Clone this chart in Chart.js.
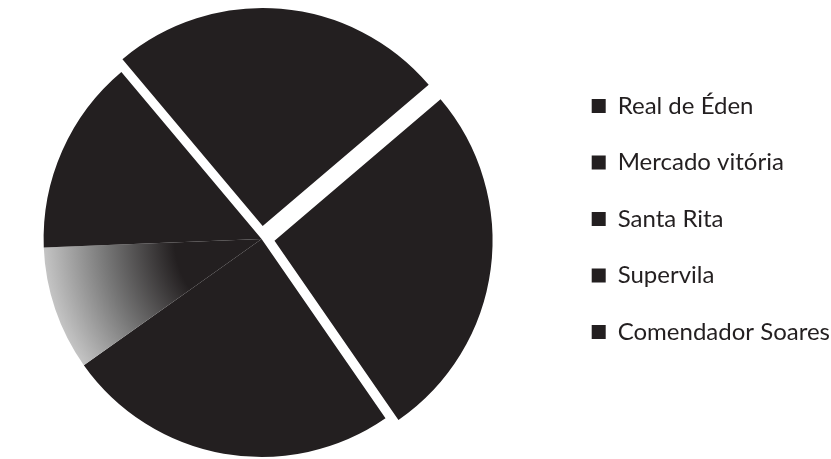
<!DOCTYPE html>
<html>
<head>
<meta charset="utf-8">
<script src="https://cdn.jsdelivr.net/npm/chart.js@4.4.1/dist/chart.umd.min.js"></script>
<style>
    html, body { margin: 0; padding: 0; background: #fff; overflow: hidden; }
    #wrap { width: 831px; height: 459px; overflow: hidden; position: relative; }
    /* canvas is a bit wider than the page so the pie sits further left */
    #inner { width: 876px; height: 459px; margin-left: -36px; position: relative; }
</style>
</head>
<body>
<div id="wrap"><div id="inner"><canvas id="chart"></canvas></div></div>
<script>
// shares (percent of the pie)
const categories = ['Real de Éden', 'Mercado vitória', 'Santa Rita', 'Supervila', 'Comendador Soares'];
const shares = [26.6, 24.8, 9.2, 14.5, 24.9];
const explode = [52, 0, 0, 0, 52];

const ink = '#231f20';
const pieRadius = 218;

function sliceColor(context) {
    if (context.dataIndex !== 2) return ink;
    const chart = context.chart;
    const area = chart.chartArea;
    if (!area) return '#8c8c8c';
    const cx = (area.left + area.right) / 2;
    const cy = (area.top + area.bottom) / 2;
    const g = chart.ctx.createRadialGradient(cx, cy, 0, cx, cy, pieRadius);
    g.addColorStop(0, ink);
    g.addColorStop(0.4, ink);
    g.addColorStop(0.72, '#777');
    g.addColorStop(1, '#c4c4c4');
    return g;
}

new Chart(document.getElementById('chart'), {
    type: 'pie',
    data: {
        labels: categories,
        datasets: [{
            data: shares,
            backgroundColor: sliceColor,
            borderWidth: 0,
            offset: explode,
            radius: pieRadius,
            rotation: 49.6
        }]
    },
    options: {
        responsive: true,
        maintainAspectRatio: false,
        animation: false,
        layout: { padding: { left: 0, right: 0, top: 19, bottom: 0 } },
        plugins: {
            tooltip: { enabled: false },
            legend: {
                position: 'right',
                align: 'start',
                // empty title only used to push the items down
                title: { display: true, text: '', font: { size: 10, lineHeight: 1 }, padding: { top: 0, bottom: 32.5 } },
                labels: {
                    boxWidth: 14,
                    boxHeight: 14,
                    padding: 32.5,
                    color: ink,
                    font: { family: 'Lato', size: 24 },
                    generateLabels: function (chart) {
                        const items = Chart.overrides.doughnut.plugins.legend.labels.generateLabels(chart);
                        items.forEach(item => {
                            item.fillStyle = ink;
                            item.strokeStyle = ink;
                            item.lineWidth = 0;
                        });
                        return items;
                    }
                }
            }
        }
    }
});
</script>
</body>
</html>
